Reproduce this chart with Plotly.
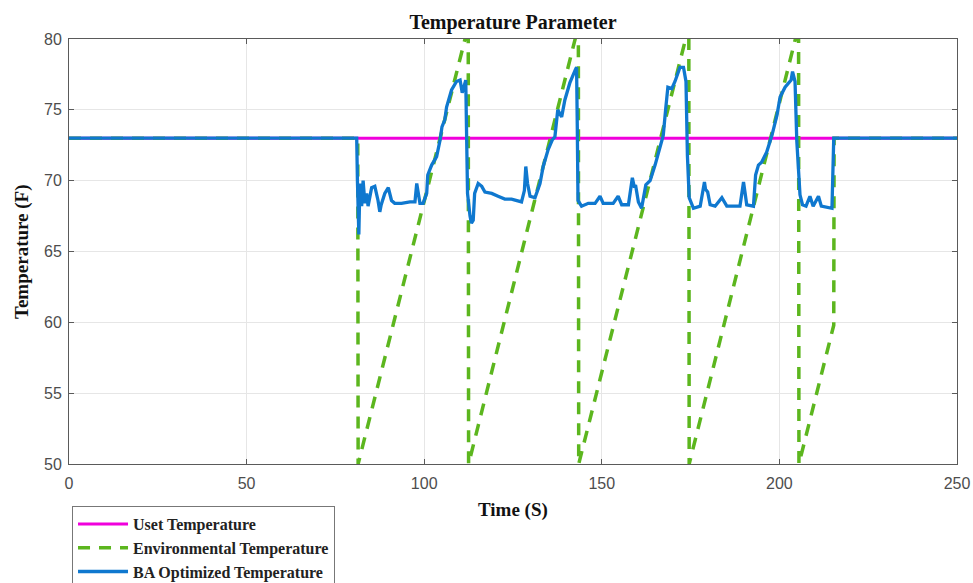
import plotly.graph_objects as go

# ---- data ----
uset_t = [0, 250]
uset_T = [73, 73]

env_t = [0, 81.3, 81.4, 112.4, 112.5, 143.4, 143.5, 174.5, 174.6, 205.4, 205.5, 215.3, 215.4, 250]
env_T = [73, 73, 50, 80.9, 50, 80.9, 50, 80.9, 50, 80.9, 50, 59.8, 73, 73]

ba_t = [0, 81.0, 81.2, 81.6, 81.9, 82.4, 82.8, 83.3, 83.8, 84.2, 85.2, 86.1, 87.0, 87.5, 87.9,
        88.9, 89.9, 90.8, 91.7, 93.6, 96.0, 97.4, 97.9, 98.8, 99.7, 100.7, 101.0, 102.1, 103.5,
        104.5, 105.0, 105.8, 106.3, 107.7, 109.1, 110.1, 110.7, 111.3, 111.7, 111.9, 112.2, 112.9,
        113.3, 113.8, 114.2, 115.2, 116.2, 117.1, 119.0, 120.8, 122.7, 124.6, 127.4, 128.2, 128.6,
        129.1, 129.8, 131.2, 132.6, 133.5, 134.9, 136.1, 136.8, 137.6, 138.7, 139.6, 141.0, 142.5,
        142.9, 143.1, 143.3, 144.3, 146.2, 148.1, 149.5, 150.4, 153.2, 154.6, 155.6, 157.5, 158.6,
        159.2, 159.5, 160.3, 161.2, 162.4, 163.6, 165.0, 166.4, 167.3, 168.0, 168.6, 169.7, 170.6,
        172.0, 173.0, 173.7, 174.1, 174.6, 175.8, 177.7, 178.9, 179.2, 179.8, 180.5, 181.9, 183.8,
        185.2, 188.9, 189.9, 190.3, 190.8, 192.7, 193.3, 194.1, 195.0, 196.4, 197.9, 199.3, 200.2,
        201.6, 203.3, 203.7, 204.4, 204.9, 205.8, 206.5, 207.5, 208.6, 209.5, 211.0, 211.8, 214.8,
        215.3, 250]
ba_T = [73, 73, 70.0, 66.2, 69.8, 68.2, 70.0, 68.4, 69.1, 68.2, 69.5, 69.6, 68.6, 67.8, 68.3,
        69.1, 69.5, 68.6, 68.4, 68.4, 68.5, 68.5, 69.8, 68.4, 68.4, 69.1, 70.4, 71.1, 71.7,
        72.9, 73.8, 74.3, 75.2, 76.4, 77.0, 77.1, 76.2, 76.9, 77.1, 73.8, 69.1, 67.5,
        67.0, 67.2, 69.1, 69.8, 69.6, 69.2, 69.1, 68.9, 68.7, 68.7, 68.5, 69.3, 71.0,
        69.8, 68.9, 68.8, 69.8, 71.0, 72.2, 72.9, 73.1, 75.0, 74.5, 75.7, 76.9, 77.8,
        78.0, 73.8, 68.6, 68.2, 68.4, 68.4, 68.9, 68.4, 68.4, 68.9, 68.3, 68.3, 70.2,
        69.5, 69.7, 68.5, 68.05, 69.7, 70.0, 71.1, 72.3, 73.2, 75.1, 76.6, 76.5, 77.0,
        78.0, 78.0, 77.0, 71.8, 68.8, 68.05, 68.2, 69.9, 69.4, 69.2, 68.3, 68.2, 68.8,
        68.2, 68.2, 69.9, 69.2, 68.3, 68.2, 70.4, 71.1, 71.3, 72.0, 73.2, 74.6, 75.9,
        76.6, 77.1, 77.7, 77.0, 72.8, 69.0, 68.3, 68.2, 68.9, 68.2, 68.9, 68.2, 68.05,
        73.0, 73]

x_ticks = [0, 50, 100, 150, 200, 250]
y_ticks = [50, 55, 60, 65, 70, 75, 80]

serif = "Liberation Serif, Times New Roman, serif"
sans = "Liberation Sans, Arial, sans-serif"

fig = go.Figure()
fig.add_trace(go.Scatter(x=uset_t, y=uset_T, mode="lines", name="Uset Temperature",
                         line=dict(color="#f000dc", width=3)))
fig.add_trace(go.Scatter(x=env_t, y=env_T, mode="lines", name="Environmental Temperature",
                         line=dict(color="#5cb61e", width=3.5, dash="12px,9px")))
fig.add_trace(go.Scatter(x=ba_t, y=ba_T, mode="lines", name="BA Optimized Temperature",
                         line=dict(color="#0f78cf", width=3.3)))

axis_common = dict(showline=True, linecolor="#5a5a5a", linewidth=1, mirror="ticks",
                   ticks="inside", ticklen=5, tickcolor="#5a5a5a", showgrid=True,
                   gridcolor="#e6e6e6", zeroline=False, automargin=False,
                   tickfont=dict(family=sans, size=16, color="#4d4d4d"))

title_font = dict(family=serif, size=19, color="#111111", weight="bold")

fig.update_layout(
    width=973, height=583,
    margin=dict(l=69, r=16, t=39, b=119),
    paper_bgcolor="white", plot_bgcolor="white",
    title=dict(text="Temperature Parameter", x=0.5, xref="paper", xanchor="center",
               y=1 - 22 / 583, yref="container", yanchor="middle",
               font=dict(family=serif, size=20, color="#111111", weight="bold")),
    xaxis=dict(range=[0, 250], tickvals=x_ticks, ticklabelstandoff=5, **axis_common),
    yaxis=dict(range=[50, 80], tickvals=y_ticks, ticklabelstandoff=3, **axis_common),
    legend=dict(x=0.0034, xref="paper", y=1 - 506 / 583, yref="container",
                xanchor="left", yanchor="top",
                bgcolor="white", bordercolor="#777777", borderwidth=1,
                font=dict(family=serif, size=16, color="#222222", weight="bold"),
                itemwidth=50, tracegroupgap=0),
    showlegend=True,
    annotations=[
        dict(text="Time (S)", xref="paper", yref="paper", x=0.5, y=-0.1082,
             xanchor="center", yanchor="middle", showarrow=False, font=title_font),
        dict(text="Temperature (F)", xref="paper", yref="paper", x=-0.0535, y=0.5,
             xanchor="center", yanchor="middle", textangle=-90, showarrow=False,
             font=title_font),
    ],
)

fig.write_html("out.html", config={"displayModeBar": False})
